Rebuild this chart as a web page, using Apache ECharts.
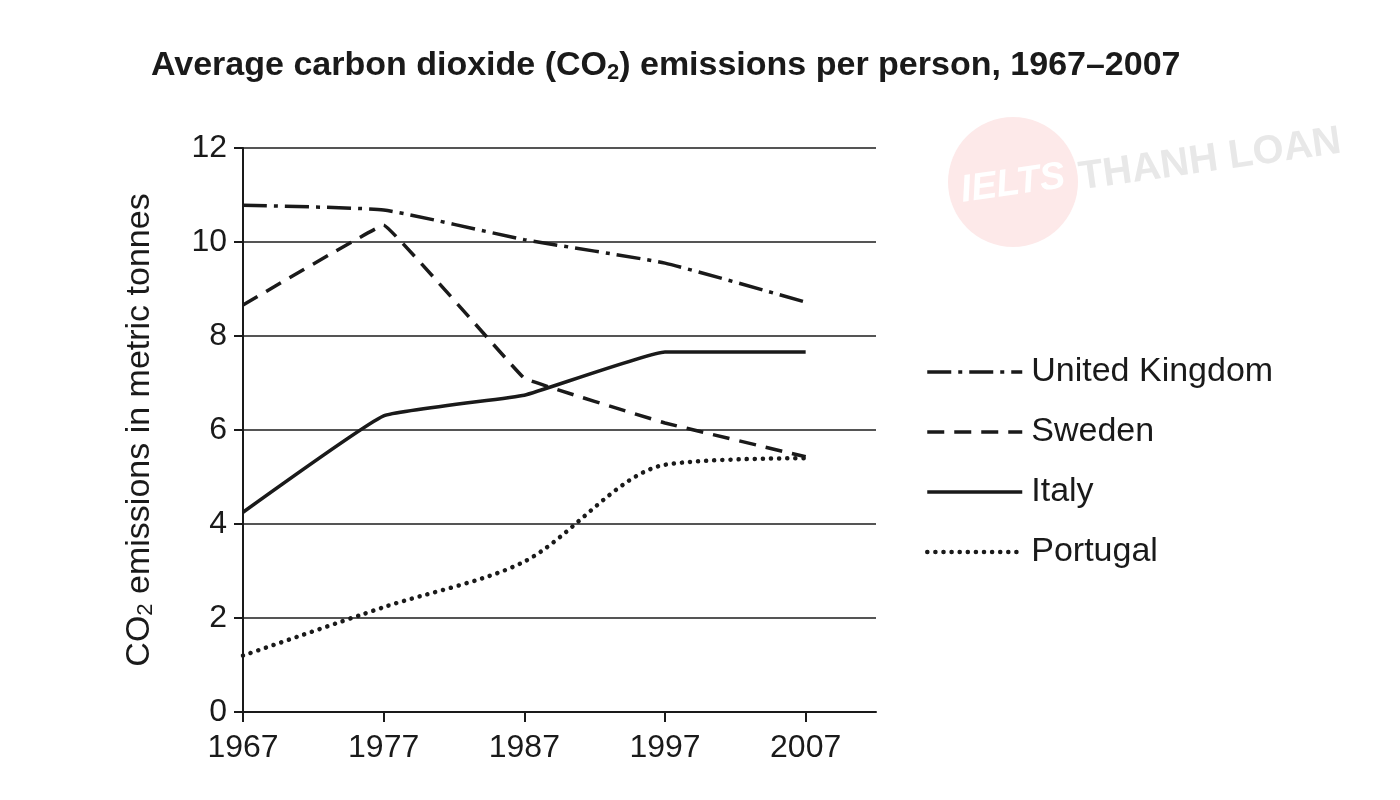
<!DOCTYPE html>
<html>
<head>
<meta charset="utf-8">
<script src="https://cdn.jsdelivr.net/npm/echarts@6/dist/echarts.min.js"></script>
<style>html,body{margin:0;padding:0;background:#fff}#c{width:1400px;height:800px}</style>
</head>
<body>
<div id="c"></div>
<script>
const years = [1967, 1977, 1987, 1997, 2007];
const tickYears = [1967, 1977, 1987, 1997, 2007];
const unitedKingdom = [10.78, 10.68, 10.05, 9.55, 8.72];
const sweden = [8.66, 10.36, 7.1, 6.15, 5.43];
const italy = [4.25, 6.3, 6.74, 7.66, 7.66];
const portugal = [1.2, 2.23, 3.2, 5.26, 5.4];
const seriesNames = ['United Kingdom', 'Sweden', 'Italy', 'Portugal'];

const FONT = '"Liberation Sans", Arial, sans-serif';
const INK = '#1a1a1a';
const pairs = arr => years.map((y, i) => [y, arr[i]]);

const styles = [
  { color: INK, width: 3.5, type: [24, 7, 4, 7] },
  { color: INK, width: 3.5, type: [17, 10] },
  { color: INK, width: 3.5, type: 'solid' },
  { color: INK, width: 4.5, type: [0.1, 8], cap: 'round' }
];
const smooths = [0.15, 0.04, 0.1, 0.3];
const dataSets = [unitedKingdom, sweden, italy, portugal];

const chart = echarts.init(document.getElementById('c'));
chart.setOption({
  backgroundColor: '#fff',
  animation: false,
  graphic: [
    { type: 'circle', shape: { cx: 1013, cy: 182, r: 65 }, style: { fill: '#fde9e9' }, z: -10 },
    { type: 'text', x: 1013, y: 184, rotation: 0.14, z: -9,
      style: { text: 'IELTS', fill: '#ffffff', font: 'italic bold 38px "Liberation Sans Narrow", "Liberation Sans", sans-serif', align: 'center', verticalAlign: 'middle' } },
    { type: 'text', x: 1210, y: 160, rotation: 0.14, z: -9,
      style: { text: 'THANH LOAN', fill: '#e8e8e8', font: 'bold 40px "Liberation Sans Narrow", "Liberation Sans", sans-serif', align: 'center', verticalAlign: 'middle' } }
  ],
  title: {
    left: 146, top: 43,
    text: '{a|Average carbon dioxide (CO}{s|2}{a|) emissions per person, 1967–2007}',
    textStyle: {
      rich: {
        a: { fontFamily: FONT, fontWeight: 'bold', fontSize: 34, color: INK },
        s: { fontFamily: FONT, fontWeight: 'bold', fontSize: 22, color: INK, padding: [14, 0, 0, 0] }
      }
    }
  },
  legend: {
    orient: 'vertical', left: 920, top: 349,
    itemWidth: 95, itemHeight: 14, itemGap: 24,
    itemStyle: { opacity: 0 },
    data: seriesNames.map((n, i) => ({ name: n, lineStyle: styles[i] })),
    textStyle: { fontFamily: FONT, fontSize: 34, color: INK, lineHeight: 36, padding: [0, 0, 0, 4] }
  },
  grid: { left: 243, right: 524, top: 148, bottom: 88, containLabel: false },
  xAxis: {
    type: 'value', min: 1967, max: 2012,
    axisLine: { show: true, lineStyle: { color: INK, width: 2 } },
    axisTick: { show: true, customValues: tickYears, length: 10, lineStyle: { color: INK, width: 2 } },
    axisLabel: { customValues: tickYears, formatter: v => String(v), fontFamily: FONT, fontSize: 32, color: INK, margin: 20 },
    splitLine: { show: false }
  },
  yAxis: {
    type: 'value', min: 0, max: 12, interval: 2,
    name: '{a|CO}{s|2}{a| emissions in metric tonnes}',
    nameLocation: 'middle', nameGap: 86, nameRotate: 90,
    nameTextStyle: {
      rich: {
        a: { fontFamily: FONT, fontSize: 34, color: INK },
        s: { fontFamily: FONT, fontSize: 22, color: INK, padding: [12, 0, 0, 0] }
      }
    },
    axisLine: { show: true, lineStyle: { color: INK, width: 2 } },
    axisTick: { show: true, length: 9, lineStyle: { color: INK, width: 2 } },
    axisLabel: { fontFamily: FONT, fontSize: 32, color: INK, margin: 16 },
    splitLine: { show: true, lineStyle: { color: '#555', width: 2 } }
  },
  series: seriesNames.map((n, i) => ({
    name: n, type: 'line', data: pairs(dataSets[i]), symbol: 'none', smooth: smooths[i],
    lineStyle: styles[i], itemStyle: { color: INK }
  }))
});
</script>
</body>
</html>
